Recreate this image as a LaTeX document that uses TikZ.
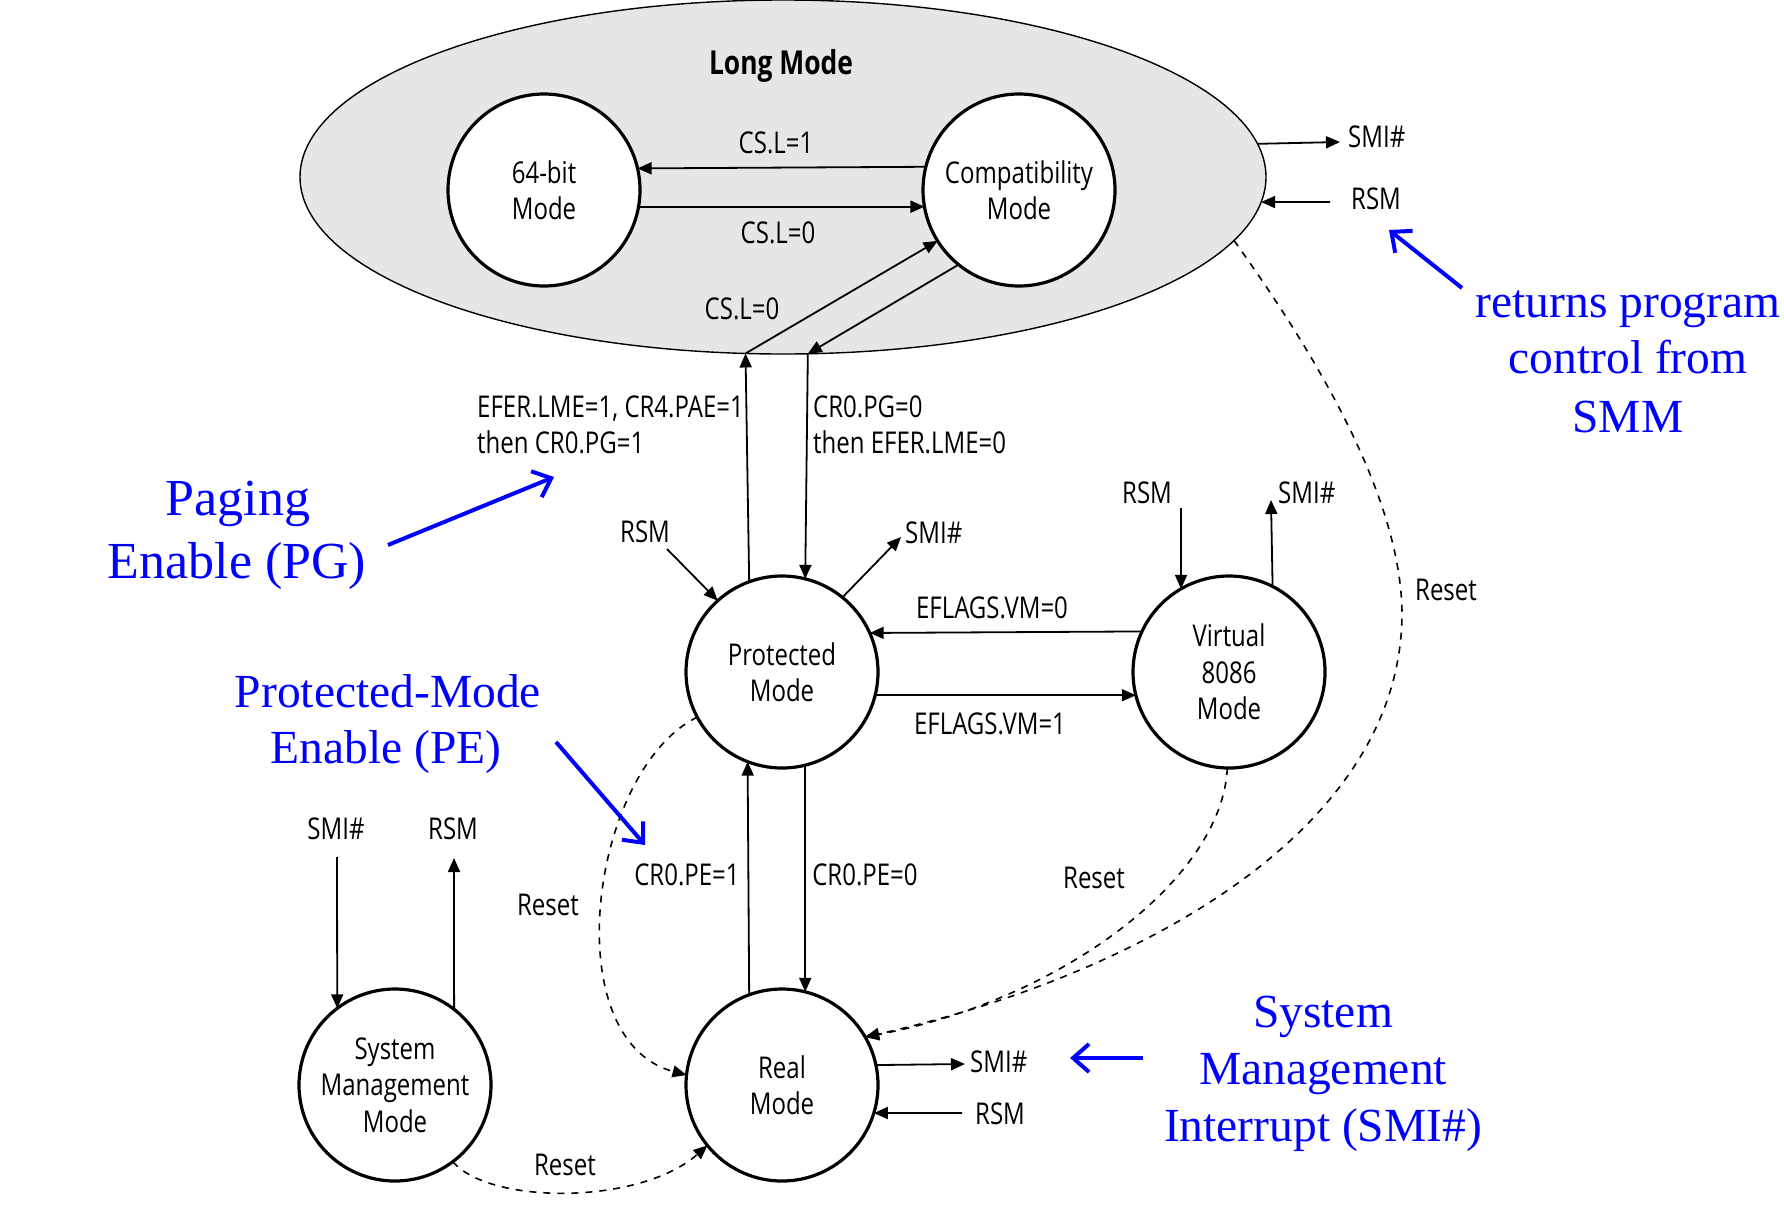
\documentclass[tikz,border=0pt]{standalone}
\usepackage{fontspec}
\setmainfont{Open Sans}[FakeStretch=0.8]
\newfontfamily\annfont{Liberation Serif}
\usetikzlibrary{arrows.meta,shapes.geometric}
\definecolor{lmfill}{RGB}{230,230,230}
\definecolor{annblue}{RGB}{0,0,255}
\begin{document}
\begin{tikzpicture}[x=1pt,y=-1pt,
  state/.style={circle,draw,line width=3.2pt,fill=white,minimum size=192pt,inner sep=0pt,outer sep=0pt,align=center,font=\fontsize{30}{36.5}\selectfont},
  lbl/.style={anchor=base,inner sep=0pt,font=\fontsize{30}{36}\selectfont},
  conn/.style={line width=1.8pt,-{Triangle[length=14pt,width=12pt]}},
  resetline/.style={line width=1.6pt,dash pattern=on 7pt off 7pt,-{Triangle[length=14pt,width=12pt]}},
  ann/.style={anchor=base,inner sep=0pt,text=annblue,font=\annfont\fontsize{47.5}{57}\selectfont},
  annbig/.style={ann,font=\annfont\fontsize{52}{63}\selectfont},
  annarrow/.style={draw=annblue,line width=4pt,-{Straight Barb[length=16pt,width=28pt]}}
]
\path[use as bounding box] (0,0) rectangle (1784,1205);

% Long mode ellipse
\node[ellipse,draw,line width=1.4pt,fill=lmfill,minimum width=966pt,minimum height=354pt,inner sep=0pt,outer sep=0pt] (lm) at (783,177) {};
\node[lbl,font=\bfseries\fontsize{33}{36}\selectfont] (lmt) at (781,74) {Long Mode};

% states
\node[state] (b64) at (544,190) {64-bit\\Mode};
\node[state] (cm) at (1019,190) {Compatibility\\Mode};
\node[state] (pm) at (782,672) {Protected\\Mode};
\node[state] (v86) at (1229,672) {Virtual\\8086\\Mode};
\node[state] (rm) at (782,1085) {Real\\Mode};
\node[state] (smm) at (395,1085) {System\\Management\\Mode};

% long mode internal
\draw[conn] (cm.166.8) -- (b64.13.2);
\draw[conn] (b64.-10.8) -- (cm.190.9);
\node[lbl] at (776,153) {CS.L=1};
\node[lbl] at (778,243) {CS.L=0};
\draw[conn] (lm.258.8) -- (cm.212);
\draw[conn] (cm.231.6) -- (lm.-82.9);
\node[lbl] at (742,319) {CS.L=0};

% protected <-> long
\draw[conn] (pm.110.7) -- (lm.258.8);
\draw[conn] (lm.-82.9) -- (pm.76.1);
\node[lbl,anchor=base west] at (477,417) {EFER.LME=1, CR4.PAE=1};
\node[lbl,anchor=base west] at (477,453) {then CR0.PG=1};
\node[lbl,anchor=base west] at (813,417) {CR0.PG=0};
\node[lbl,anchor=base west] at (813,453) {then EFER.LME=0};

% protected RSM / SMI
\coordinate (pmrsm) at (667,549);
\draw[conn] (pmrsm) -- (pm.132);
\node[lbl] at (645,542) {RSM};
\coordinate (pmsmi) at (901,537);
\draw[conn] (pm.51.6) -- (pmsmi);
\node[lbl,anchor=base west] at (905,543) {SMI\#};

% virtual 8086 RSM / SMI
\coordinate (vrsm) at (1181,508);
\draw[conn] (vrsm) -- (v86.120.3);
\node[lbl] at (1147,503) {RSM};
\coordinate (vsmi) at (1271,500);
\draw[conn] (v86.63.8) -- (vsmi);
\node[lbl,anchor=base west] at (1278,503) {SMI\#};

% EFLAGS
\draw[conn] (v86.155.8) -- (pm.24);
\node[lbl] at (992,618) {EFLAGS.VM=0};
\draw[conn] (pm.-14.5) -- (v86.194.6);
\node[lbl] at (990,734) {EFLAGS.VM=1};

% CR0.PE
\draw[conn] (rm.110.7) -- (pm.249.3);
\draw[conn] (pm.-76.1) -- (rm.76.1);
\node[lbl] at (687,885) {CR0.PE=1};
\node[lbl] at (865,885) {CR0.PE=0};

% SMM
\coordinate (ssmi) at (337,857);
\draw[conn] (ssmi) -- (smm.127.2);
\node[lbl] at (336,839) {SMI\#};
\coordinate (srsm) at (454,858);
\draw[conn] (smm.52.1) -- (srsm);
\node[lbl] at (453,839) {RSM};

% Real mode SMI / RSM
\coordinate (rsmi) at (965,1064);
\draw[conn] (rm.12.6) -- (rsmi);
\node[lbl,anchor=base west] at (970,1072) {SMI\#};
\coordinate (rrsm) at (962,1113);
\draw[conn] (rrsm) -- (rm.-17);
\node[lbl] at (1000,1124) {RSM};

% Long mode SMI / RSM
\coordinate (lsmi) at (1340,142);
\draw[conn] (lm.4.2) -- (lsmi);
\node[lbl,anchor=base west] at (1348,147) {SMI\#};
\coordinate (lrsm) at (1330,202);
\draw[conn] (lrsm) -- (lm.-3);
\node[lbl] at (1376,209) {RSM};

% Resets
\draw[resetline] (lm.-8.7) .. controls (1311,348) and (1402,495) .. (1402,615) .. controls (1400,840) and (1120,980) .. (rm.30);
\node[lbl] at (1446,600) {Reset};
\draw[resetline] (v86.-91) .. controls (1222,880) and (1060,1000) .. (rm.30);
\node[lbl] at (1094,888) {Reset};
\draw[resetline] (pm.208.7) .. controls (590,770) and (555,1040) .. (rm.174);
\node[lbl] at (548,915) {Reset};
\draw[resetline] (smm.-53.6) .. controls (490,1205) and (640,1205) .. (rm.219.4);
\node[lbl] at (565,1175) {Reset};

% Annotations
\node[annbig] (pg1) at (238,515) {Paging};
\node[annbig] (pg2) at (237,578) {Enable (PG)};
\coordinate (pgs) at (388,545);
\coordinate (pge) at (554,477);
\draw[annarrow] (pgs) -- (pge);

\node[ann] (pe1) at (388,707) {Protected-Mode};
\node[ann] (pe2) at (386,763) {Enable (PE)};
\coordinate (pes) at (556,742);
\coordinate (pee) at (645,845);
\draw[annarrow] (pes) -- (pee);

\node[ann] (rt1) at (1628,317) {returns program};
\node[ann] (rt2) at (1628,373) {control from};
\node[ann] (rt3) at (1628,432) {SMM};
\coordinate (rts) at (1462,288);
\coordinate (rte) at (1389,230);
\draw[annarrow] (rts) -- (rte);

\node[ann] (sm1) at (1323,1027) {System};
\node[ann] (sm2) at (1323,1084) {Management};
\node[ann] (sm3) at (1323,1141) {Interrupt (SMI\#)};
\coordinate (sms) at (1143,1058);
\coordinate (sme) at (1070,1058);
\draw[annarrow] (sms) -- (sme);
\end{tikzpicture}
\end{document}
